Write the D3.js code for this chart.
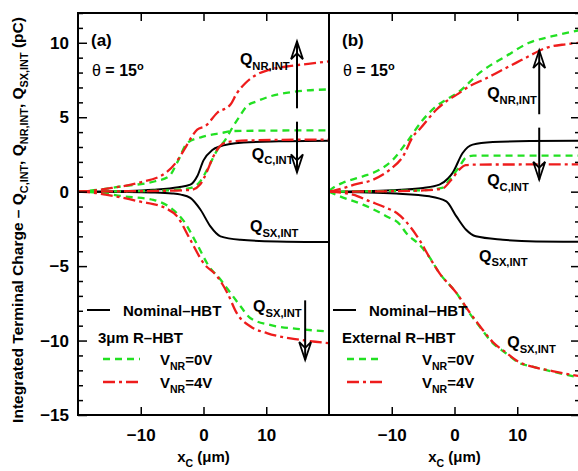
<!DOCTYPE html>
<html>
<head>
<meta charset="utf-8">
<script src="https://cdn.jsdelivr.net/npm/d3@7"></script>
<style>
body { margin: 0; background: #fff; }
svg { display: block; font-family: "Liberation Sans", Arial, Helvetica, sans-serif; font-weight: bold; }
</style>
</head>
<body>
<svg width="578" height="471"></svg>
<script>
// ---- data: [x_C (um), charge (pC)] ----
// panel (a): 3um R-HBT
let aNomQC  = [[-20,0],[-12,0.05],[-8,0.13],[-4,0.3],[-2.1,0.47],[-1,1.03],[0,2.1],[1.4,2.8],[2.7,3.05],[4,3.18],[6.4,3.3],[12,3.38],[20,3.42]];
let aNomQSX = [[-20,0],[-12,-0.02],[-8.4,-0.05],[-5,-0.12],[-3.6,-0.2],[-2.1,-0.42],[-0.5,-1.2],[1.1,-2.33],[2.7,-3.0],[5.9,-3.23],[11.7,-3.34],[20,-3.38]];
let aQcG    = [[-20,0],[-16.7,0.13],[-13,0.36],[-7.7,0.7],[-5.5,1.03],[-4.2,1.95],[-2.6,3.27],[-0.2,3.68],[3,3.95],[4.6,4.07],[10,4.1],[20,4.12]];
let aQnrG   = [[-20,0],[-12,0.03],[-6,0.08],[-2,0.25],[-0.5,0.7],[0.85,1.7],[2.2,2.8],[3.5,3.5],[4.6,4.3],[5.6,4.95],[6.9,5.74],[8.5,6.07],[10.6,6.4],[14.3,6.7],[20,6.87]];
let aQcR    = [[-20,0],[-12,0.03],[-6,0.06],[-2,0.12],[-0.5,0.5],[0.6,1.4],[1.5,2.3],[2.5,3.0],[4,3.35],[8,3.45],[20,3.5]];
let aQnrR   = [[-20,0],[-17,0.1],[-14.6,0.25],[-10.3,0.6],[-6,1.27],[-4.4,1.95],[-3.1,2.8],[-1.7,3.8],[-1,4.17],[0.3,4.4],[2.2,5.3],[4.3,5.85],[5.3,6.6],[6.7,7.3],[8.5,7.87],[10.6,8.2],[14,8.45],[17,8.6],[20,8.75]];
let aQsxG   = [[-20,0],[-16,-0.1],[-13,-0.3],[-8,-0.55],[-5.2,-1.1],[-3.1,-2.0],[-1,-3.56],[0.85,-5.0],[2.7,-5.9],[4.3,-6.8],[5.9,-7.7],[7.5,-8.5],[10.6,-8.95],[15.4,-9.23],[20,-9.4]];
let aQsxR   = [[-20,0],[-17.2,-0.09],[-15.6,-0.2],[-10.3,-0.65],[-6.1,-1.1],[-4.2,-1.66],[-2.1,-3.23],[0,-4.8],[2.2,-5.7],[3.8,-6.8],[5.3,-8.16],[7.5,-9.06],[10.1,-9.5],[15.4,-9.95],[20,-10.17]];

// panel (b): external R-HBT
let bNomQC  = [[-20,0],[-10,0.1],[-5,0.25],[-2.4,0.47],[-1,0.9],[-0.3,1.26],[1.3,2.6],[2.9,3.16],[6.1,3.33],[12,3.4],[20,3.42]];
let bNomQSX = [[-20,0],[-9.3,-0.13],[-4,-0.31],[-1.3,-0.65],[0.3,-1.66],[1.85,-2.56],[3.4,-3.0],[7.7,-3.23],[13,-3.34],[20,-3.36]];
let bQcG    = [[-20,0],[-10,0.05],[-5,0.1],[-2,0.25],[-0.8,0.8],[0.8,1.7],[1.85,2.3],[3,2.42],[20,2.42]];
let bQcR    = [[-20,0],[-10,0.03],[-5,0.08],[-2,0.2],[-0.5,0.8],[0.8,1.5],[1.8,1.78],[3,1.82],[20,1.83]];
let bQnrG   = [[-20,0.05],[-19,0.35],[-17.8,0.6],[-14.6,1.03],[-11.9,1.48],[-9.8,2.15],[-7.7,3.27],[-5,4.84],[-2.9,5.74],[-1.3,6.19],[0.5,6.64],[4,7.98],[8.2,9.1],[11.9,10.0],[15.6,10.44],[20,10.85]];
let bQnrR   = [[-20,0],[-18,0.2],[-16,0.47],[-13,0.8],[-10.3,1.48],[-8.2,2.37],[-6.6,3.72],[-5.6,4.17],[-2.9,5.5],[-1.3,6.07],[0.3,6.5],[2.4,7.08],[5,7.6],[7.7,8.2],[9.8,8.65],[11.4,9.0],[14.6,9.66],[17.7,9.9],[20,10.0]];
let bQsxG   = [[-20,0],[-18.3,-0.31],[-14.6,-0.87],[-10.8,-1.66],[-8.7,-2.2],[-7.7,-2.78],[-5.6,-3.56],[-4,-4.4],[-2.4,-5.47],[0.3,-6.8],[2.4,-8.16],[4,-9.06],[6.1,-10.17],[8.2,-10.85],[10.3,-11.5],[12.4,-11.75],[15.6,-12.08],[20,-12.5]];
let bQsxR   = [[-20,0],[-16.2,-0.2],[-13.5,-0.65],[-10.8,-1.1],[-9.2,-1.43],[-7.1,-2.33],[-5.6,-3.23],[-4,-4.4],[-2.4,-5.47],[0.3,-6.8],[2.4,-8.1],[4,-9.0],[6.1,-10.1],[8.2,-10.8],[10.3,-11.45],[12.4,-11.75],[15.6,-12.05],[20,-12.4]];

let xTicks = [-10, 0, 10];
let yTicks = [-15, -10, -5, 0, 5, 10];
let yMinor = d3.range(-15, 13).filter(v => v % 5 !== 0);

let black = '#000', green = '#22e022', red = '#ee1c1c';
let greenDash = '7,5', redDash = '12,4,3,4';

let svg = d3.select('svg');

let plotTop = 13, plotBottom = 415;
let xA = d3.scaleLinear().domain([-20, 20]).range([78, 329]);
let xB = d3.scaleLinear().domain([-20, 20]).range([329, 580]);
let y = d3.scaleLinear().domain([-15, 12]).range([plotBottom, plotTop]);

let fmt = d => d < 0 ? '\u2212' + Math.abs(d) : '' + d;

// clip paths
let defs = svg.append('defs');
[['clipA', xA], ['clipB', xB]].forEach(([id, sx]) => {
    defs.append('clipPath').attr('id', id).append('rect')
        .attr('x', sx.range()[0]).attr('y', plotTop)
        .attr('width', sx.range()[1] - sx.range()[0]).attr('height', plotBottom - plotTop);
});

let drawPanel = (sx, clipId, series) => {
    let line = d3.line()
        .x(d => sx(d[0]))
        .y(d => y(d[1]))
        .curve(d3.curveMonotoneX);
    let g = svg.append('g').attr('clip-path', 'url(#' + clipId + ')');
    series.forEach(s => {
        g.append('path')
            .attr('d', line(s.data))
            .attr('fill', 'none')
            .attr('stroke', s.color)
            .attr('stroke-width', s.color === black ? 2 : 2.3)
            .attr('stroke-dasharray', s.dash || null);
    });
};

drawPanel(xA, 'clipA', [
    {data: aNomQC, color: black}, {data: aNomQSX, color: black},
    {data: aQcG, color: green, dash: greenDash}, {data: aQnrG, color: green, dash: greenDash},
    {data: aQsxG, color: green, dash: greenDash},
    {data: aQcR, color: red, dash: redDash}, {data: aQnrR, color: red, dash: redDash},
    {data: aQsxR, color: red, dash: redDash}
]);
drawPanel(xB, 'clipB', [
    {data: bNomQC, color: black}, {data: bNomQSX, color: black},
    {data: bQcG, color: green, dash: greenDash}, {data: bQnrG, color: green, dash: greenDash},
    {data: bQsxG, color: green, dash: greenDash},
    {data: bQcR, color: red, dash: redDash}, {data: bQnrR, color: red, dash: redDash},
    {data: bQsxR, color: red, dash: redDash}
]);

// ---- axes ----
let styleAxis = g => {
    g.select('.domain').remove();
    g.selectAll('.tick line').attr('stroke', '#000').attr('stroke-width', 1.5);
    g.selectAll('text').style('font-size', '17px').style('font-weight', 'bold')
        .attr('fill', '#000').style('font-family', '"Liberation Sans", Arial, sans-serif');
};

[xA, xB].forEach(sx => {
    svg.append('g').attr('transform', 'translate(0,' + plotBottom + ')')
        .call(d3.axisBottom(sx).tickValues(xTicks).tickSize(-8).tickPadding(14).tickFormat(fmt))
        .call(styleAxis);
    svg.append('g').attr('transform', 'translate(0,' + plotTop + ')')
        .call(d3.axisTop(sx).tickValues(xTicks).tickSize(-8).tickFormat(''))
        .call(styleAxis);
});

svg.append('g').attr('transform', 'translate(78,0)')
    .call(d3.axisLeft(y).tickValues(yTicks).tickSize(-9).tickPadding(9).tickFormat(fmt))
    .call(styleAxis);
svg.append('g').attr('transform', 'translate(78,0)')
    .call(d3.axisLeft(y).tickValues(yMinor).tickSize(-5).tickFormat(''))
    .call(styleAxis);
svg.append('g').attr('transform', 'translate(580,0)')
    .call(d3.axisRight(y).tickValues(yTicks).tickSize(-9).tickFormat(''))
    .call(styleAxis);
svg.append('g').attr('transform', 'translate(580,0)')
    .call(d3.axisRight(y).tickValues(yMinor).tickSize(-5).tickFormat(''))
    .call(styleAxis);

// frames
[xA, xB].forEach(sx => {
    svg.append('rect')
        .attr('x', sx.range()[0]).attr('y', plotTop)
        .attr('width', sx.range()[1] - sx.range()[0]).attr('height', plotBottom - plotTop)
        .attr('fill', 'none').attr('stroke', '#000').attr('stroke-width', 2);
});

// ---- text helpers ----
let richText = (x, yy, parts, size, anchor) => {
    let t = svg.append('text').attr('x', x).attr('y', yy)
        .style('font-size', size + 'px').attr('text-anchor', anchor || 'start');
    let shift = 0;
    parts.forEach(p => {
        let target = p[1] ? size * 0.3 : 0;
        let ts = t.append('tspan').text(p[0]).attr('dy', target - shift);
        if (p[1]) ts.style('font-size', (size * 0.7) + 'px');
        shift = target;
    });
    return t;
};

// x labels
[xA, xB].forEach(sx => {
    richText(sx(0), 462, [['x', 0], ['C', 1], [' (\u03bcm)', 0]], 15, 'middle');
});

// y label
richText(0, 0, [['Integrated Terminal Charge \u2013 Q', 0], ['C,INT', 1], [', Q', 0], ['NR,INT', 1], [', Q', 0], ['SX,INT', 1], [' (pC)', 0]], 15.5, 'middle')
    .attr('transform', 'translate(23,220) rotate(-90)');

// panel labels
[[xA, '(a)'], [xB, '(b)']].forEach(([sx, lab]) => {
    let x0 = sx.range()[0];
    svg.append('text').attr('x', x0 + 13).attr('y', 46).style('font-size', '17px').text(lab);
    let t = svg.append('text').attr('x', x0 + 14).attr('y', 76).style('font-size', '16px');
    t.append('tspan').style('font-weight', 'normal').text('\u03b8');
    t.append('tspan').text(' = 15');
    t.append('tspan').attr('dy', -6).style('font-size', '11px').text('o');
});

// Q labels
let qLabel = (sx, xv, yv, sub) => richText(sx(xv), y(yv), [['Q', 0], [sub, 1]], 16);
qLabel(xA, 5.8, 8.5, 'NR,INT');
qLabel(xA, 7.7, 2.15, 'C,INT');
qLabel(xA, 7.4, -2.7, 'SX,INT');
qLabel(xA, 7.9, -8.1, 'SX,INT');
qLabel(xB, 5.2, 6.2, 'NR,INT');
qLabel(xB, 5.2, 0.35, 'C,INT');
qLabel(xB, 3.9, -4.7, 'SX,INT');
qLabel(xB, 8.4, -10.5, 'SX,INT');

// arrows
let arrow = (sx, xv, y0, y1) => {
    let x = sx(xv), ya = y(y0), yb = y(y1);
    let dir = yb < ya ? 1 : -1;
    svg.append('line').attr('x1', x).attr('x2', x).attr('y1', ya).attr('y2', yb)
        .attr('stroke', '#000').attr('stroke-width', 2);
    svg.append('path')
        .attr('d', 'M' + (x - 6) + ',' + (yb + dir * 18) + 'L' + x + ',' + yb + 'L' + (x + 6) + ',' + (yb + dir * 18)
            + 'M' + (x - 6) + ',' + (yb + dir * 18) + 'L' + x + ',' + (yb + dir * 12) + 'L' + (x + 6) + ',' + (yb + dir * 18))
        .attr('fill', 'none').attr('stroke', '#000').attr('stroke-width', 1.8);
};
arrow(xA, 14.9, 5.6, 10.1);
arrow(xA, 14.9, 4.7, 1.3);
arrow(xA, 16.2, -7.3, -11.3);
arrow(xB, 13.5, 5.2, 9.5);
arrow(xB, 13.5, 4.3, 0.8);

// legends
let legend = (x0, lineX0, lineX1, textX, title, titleX) => {
    svg.append('line').attr('x1', x0).attr('x2', x0 + 23).attr('y1', 310).attr('y2', 310)
        .attr('stroke', black).attr('stroke-width', 2);
    svg.append('text').attr('x', x0 + 36).attr('y', 316).style('font-size', '15px').text('Nominal\u2013HBT');
    svg.append('text').attr('x', titleX).attr('y', 343).style('font-size', '15px').text(title);
    [[green, greenDash, 359, '0V'], [red, redDash, 382, '4V']].forEach(([c, dash, yy, v]) => {
        svg.append('line').attr('x1', lineX0).attr('x2', lineX1).attr('y1', yy).attr('y2', yy)
            .attr('stroke', c).attr('stroke-width', 2.3).attr('stroke-dasharray', dash);
        richText(textX, yy + 6, [['V', 0], ['NR', 1], ['=' + v, 0]], 15);
    });
};
legend(87, 103, 140, 160, '3\u03bcm R\u2013HBT', 98);
legend(333, 347, 382, 422, 'External R\u2013HBT', 342);
</script>
</body>
</html>
